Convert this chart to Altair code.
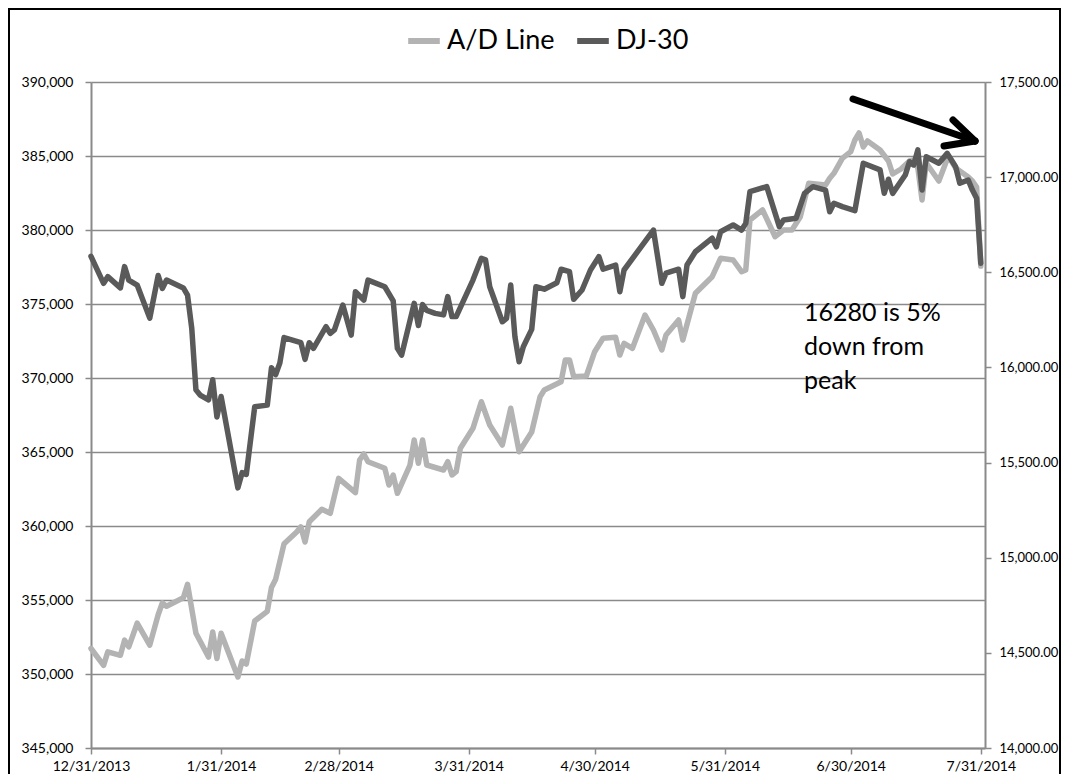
import altair as alt
import pandas as pd

# ---------------- data ----------------
SERIES = ["A/D Line", "DJ-30"]
SERIES_COLORS = ["#b3b3b3", "#5a5a5a"]

AD_DATES = [
    "2013-12-31", "2014-01-03", "2014-01-04", "2014-01-07", "2014-01-08", "2014-01-09",
    "2014-01-11", "2014-01-14", "2014-01-16", "2014-01-17", "2014-01-18", "2014-01-22",
    "2014-01-23", "2014-01-25", "2014-01-28", "2014-01-29", "2014-01-30", "2014-01-31",
    "2014-02-04", "2014-02-05", "2014-02-06", "2014-02-08", "2014-02-11", "2014-02-12",
    "2014-02-13", "2014-02-15", "2014-02-18", "2014-02-19", "2014-02-20", "2014-02-21",
    "2014-02-24", "2014-02-26", "2014-02-28", "2014-03-04", "2014-03-05", "2014-03-06",
    "2014-03-07", "2014-03-11", "2014-03-12", "2014-03-13", "2014-03-14", "2014-03-17",
    "2014-03-18", "2014-03-19", "2014-03-20", "2014-03-21", "2014-03-25", "2014-03-26",
    "2014-03-27", "2014-03-28", "2014-03-29", "2014-04-01", "2014-04-03", "2014-04-05",
    "2014-04-08", "2014-04-10", "2014-04-12", "2014-04-15", "2014-04-17", "2014-04-18",
    "2014-04-22", "2014-04-23", "2014-04-24", "2014-04-25", "2014-04-28", "2014-04-30",
    "2014-05-02", "2014-05-05", "2014-05-06", "2014-05-07", "2014-05-09", "2014-05-12",
    "2014-05-14", "2014-05-16", "2014-05-17", "2014-05-20", "2014-05-21", "2014-05-24",
    "2014-05-28", "2014-05-30", "2014-06-02", "2014-06-04", "2014-06-05", "2014-06-06",
    "2014-06-09", "2014-06-12", "2014-06-14", "2014-06-16", "2014-06-18", "2014-06-20",
    "2014-06-24", "2014-06-25", "2014-06-26", "2014-06-28", "2014-06-30", "2014-07-01",
    "2014-07-02", "2014-07-03", "2014-07-04", "2014-07-07", "2014-07-09", "2014-07-10",
    "2014-07-12", "2014-07-14", "2014-07-15", "2014-07-16", "2014-07-17", "2014-07-18",
    "2014-07-21", "2014-07-22", "2014-07-23", "2014-07-24", "2014-07-25", "2014-07-28",
    "2014-07-29", "2014-07-30", "2014-07-31",
]
AD_VALUES = [
    351723, 350581, 351493, 351263, 352290, 351838,
    353432, 351952, 354006, 354804, 354574, 355148,
    356061, 352750, 351148, 352838, 351047, 352750,
    349797, 350878, 350675, 353581, 354236, 355838,
    356405, 358804, 359601, 359946, 358919, 360290,
    361128, 360858, 363223, 362250, 364459, 364865,
    364344, 363898, 362770, 363446, 362209, 364121,
    365811, 364236, 365811, 364121, 363784, 364344,
    363446, 363669, 365250, 366601, 368398, 366824,
    365473, 367953, 365020, 366351, 368736, 369189,
    369750, 371216, 371216, 370088, 370135, 371777,
    372682, 372750, 371554, 372344, 372007, 374257,
    373243, 371892, 372905, 373919, 372567, 375723,
    376845, 378088, 377973, 377182, 377297, 380676,
    381351, 379547, 380000, 380000, 380899, 383155,
    383040, 383493, 383831, 384845, 385290, 386081,
    386554, 385608, 386013, 385405, 384662, 383784,
    384122, 384662, 384730, 384189, 382027, 384527,
    383311, 384054, 384797, 384662, 384189, 383581,
    383311, 382905, 377567,
]

DJ_DATES = [
    "2013-12-31", "2014-01-03", "2014-01-04", "2014-01-07", "2014-01-08", "2014-01-09",
    "2014-01-11", "2014-01-14", "2014-01-16", "2014-01-17", "2014-01-18", "2014-01-22",
    "2014-01-23", "2014-01-24", "2014-01-25", "2014-01-26", "2014-01-28", "2014-01-29",
    "2014-01-30", "2014-01-31", "2014-02-04", "2014-02-05", "2014-02-06", "2014-02-08",
    "2014-02-11", "2014-02-12", "2014-02-13", "2014-02-14", "2014-02-15", "2014-02-19",
    "2014-02-20", "2014-02-21", "2014-02-22", "2014-02-25", "2014-02-26", "2014-02-27",
    "2014-03-01", "2014-03-03", "2014-03-04", "2014-03-06", "2014-03-07", "2014-03-11",
    "2014-03-13", "2014-03-14", "2014-03-15", "2014-03-18", "2014-03-19", "2014-03-20",
    "2014-03-21", "2014-03-23", "2014-03-25", "2014-03-26", "2014-03-27", "2014-03-28",
    "2014-04-01", "2014-04-03", "2014-04-04", "2014-04-05", "2014-04-08", "2014-04-09",
    "2014-04-10", "2014-04-11", "2014-04-12", "2014-04-13", "2014-04-15", "2014-04-16",
    "2014-04-18", "2014-04-21", "2014-04-22", "2014-04-24", "2014-04-25", "2014-04-27",
    "2014-04-29", "2014-05-01", "2014-05-02", "2014-05-05", "2014-05-06", "2014-05-07",
    "2014-05-14", "2014-05-16", "2014-05-17", "2014-05-20", "2014-05-21", "2014-05-22",
    "2014-05-24", "2014-05-28", "2014-05-29", "2014-05-30", "2014-06-02", "2014-06-04",
    "2014-06-05", "2014-06-06", "2014-06-10", "2014-06-13", "2014-06-14", "2014-06-17",
    "2014-06-19", "2014-06-21", "2014-06-24", "2014-06-25", "2014-06-26", "2014-06-28",
    "2014-07-01", "2014-07-02", "2014-07-03", "2014-07-07", "2014-07-08", "2014-07-09",
    "2014-07-10", "2014-07-13", "2014-07-14", "2014-07-15", "2014-07-16", "2014-07-17",
    "2014-07-18", "2014-07-21", "2014-07-23", "2014-07-24", "2014-07-25", "2014-07-26",
    "2014-07-28", "2014-07-29", "2014-07-30", "2014-07-31",
]
DJ_VALUES = [
    16584, 16442, 16477, 16418, 16530, 16459,
    16433, 16259, 16483, 16415, 16459, 16418,
    16380, 16207, 15882, 15855, 15829, 15935,
    15740, 15847, 15367, 15447, 15438, 15793,
    15802, 15998, 15962, 16024, 16157, 16130,
    16042, 16130, 16100, 16214, 16179, 16197,
    16328, 16170, 16398, 16354, 16459, 16424,
    16350, 16100, 16065, 16337, 16220, 16330,
    16300, 16284, 16276, 16372, 16267, 16267,
    16459, 16573, 16565, 16424, 16240, 16258,
    16433, 16162, 16030, 16109, 16200, 16424,
    16411, 16445, 16516, 16503, 16358, 16407,
    16512, 16582, 16516, 16538, 16398, 16512,
    16722, 16442, 16495, 16516, 16372, 16538,
    16608, 16679, 16634, 16713, 16749, 16722,
    16757, 16924, 16950, 16740, 16775, 16784,
    16915, 16950, 16932, 16818, 16863, 16845,
    16824, 16950, 17073, 17038, 16915, 16989,
    16915, 17011, 17081, 17064, 17143, 16932,
    17107, 17073, 17125, 17090, 17055, 16968,
    16985, 16932, 16889, 16547,
]

X_TICKS = ["2013-12-31", "2014-01-31", "2014-02-28", "2014-03-31",
           "2014-04-30", "2014-05-31", "2014-06-30", "2014-07-31"]
X_DOMAIN = ["2013-12-31", "2014-08-01"]
AD_DOMAIN = [345000, 390000]
AD_TICKS = [345000, 350000, 355000, 360000, 365000, 370000, 375000, 380000, 385000, 390000]
DJ_DOMAIN = [14000, 17500]
DJ_TICKS = [14000, 14500, 15000, 15500, 16000, 16500, 17000, 17500]
NOTE_LINES = ["16280 is 5%", "down from", "peak"]

# ---------------- styling ----------------
FONT = "Lato"
GRID = "#8a8a8a"
W, H = 894, 666


def ms(s):
    return int(pd.Timestamp(s, tz="UTC").timestamp() * 1000)


ad = pd.DataFrame({"date": AD_DATES, "value": AD_VALUES, "series": SERIES[0]})
dj = pd.DataFrame({"date": DJ_DATES, "value": DJ_VALUES, "series": SERIES[1]})

x_enc = alt.X(
    "date:T",
    scale=alt.Scale(type="utc", domain=[ms(d) for d in X_DOMAIN], nice=False),
    axis=alt.Axis(
        values=[ms(t) for t in X_TICKS], format="%-m/%-d/%Y", title=None, grid=False,
        domainColor=GRID, domainWidth=2, tickColor=GRID, tickWidth=1.5, tickSize=6,
        labelPadding=5, labelFont=FONT, labelFontSize=14, labelColor="#000",
        labelOverlap=False, labelFlush=False,
    ),
)

color_enc = alt.Color(
    "series:N",
    scale=alt.Scale(domain=SERIES, range=SERIES_COLORS),
    legend=alt.Legend(
        orient="none", legendX=314, legendY=-60, direction="horizontal", title=None,
        symbolType="stroke", symbolStrokeWidth=6, symbolSize=1000,
        labelFont=FONT, labelFontSize=27, labelColor="#000", labelOffset=4,
        columnPadding=10, padding=0,
    ),
)

line_style = dict(strokeWidth=5.5, strokeJoin="round", strokeCap="round")

ad_line = alt.Chart(ad).mark_line(**line_style).encode(
    x=x_enc,
    y=alt.Y(
        "value:Q",
        scale=alt.Scale(domain=AD_DOMAIN, nice=False, zero=False),
        axis=alt.Axis(
            values=AD_TICKS, format=",d", title=None, grid=True, gridColor=GRID,
            gridWidth=1.5, domainColor=GRID, domainWidth=2, tickColor=GRID,
            tickWidth=1.5, tickSize=6, labelPadding=12, labelFont=FONT,
            labelFontSize=14, labelColor="#000",
        ),
    ),
    color=color_enc,
)

dj_line = alt.Chart(dj).mark_line(**line_style).encode(
    x=x_enc,
    y=alt.Y(
        "value:Q",
        scale=alt.Scale(domain=DJ_DOMAIN, nice=False, zero=False),
        axis=alt.Axis(
            orient="right", values=DJ_TICKS, format=",.2f", title=None, grid=False,
            domainColor=GRID, domainWidth=2, tickColor=GRID, tickWidth=1.5,
            tickSize=6, labelPadding=8, labelFont=FONT, labelFontSize=13,
            labelColor="#000",
        ),
    ),
    color=color_enc,
)

one = pd.DataFrame({"k": [0]})

note = alt.Chart(one).mark_text(
    text=NOTE_LINES, align="left", baseline="alphabetic", font=FONT,
    fontSize=25, lineHeight=34, color="#000",
).encode(x=alt.value(713), y=alt.value(239))

arrow_style = dict(color="#000", strokeWidth=7, strokeCap="round")
arrow_shaft = alt.Chart(one).mark_rule(**arrow_style).encode(
    x=alt.value(762), y=alt.value(17), x2=alt.value(884), y2=alt.value(59))
arrow_top = alt.Chart(one).mark_rule(**arrow_style).encode(
    x=alt.value(862), y=alt.value(38), x2=alt.value(884), y2=alt.value(59))
arrow_bot = alt.Chart(one).mark_rule(**arrow_style).encode(
    x=alt.value(853), y=alt.value(64), x2=alt.value(884), y2=alt.value(59))

frame = alt.Chart(one).mark_rect(
    fillOpacity=0, stroke="#000", strokeWidth=2
).encode(x=alt.value(-82), x2=alt.value(969), y=alt.value(-73), y2=alt.value(760))

chart = (
    alt.layer(ad_line, dj_line, note, arrow_shaft, arrow_top, arrow_bot, frame)
    .resolve_scale(y="independent")
    .properties(
        width=W, height=H,
        padding={"left": 83, "top": 74, "right": 77, "bottom": 26},
        autosize=alt.AutoSizeParams(type="none"),
        background="white",
    )
    .configure_view(strokeWidth=0)
)

chart.save("out.html", embed_options={"renderer": "svg", "actions": False})
